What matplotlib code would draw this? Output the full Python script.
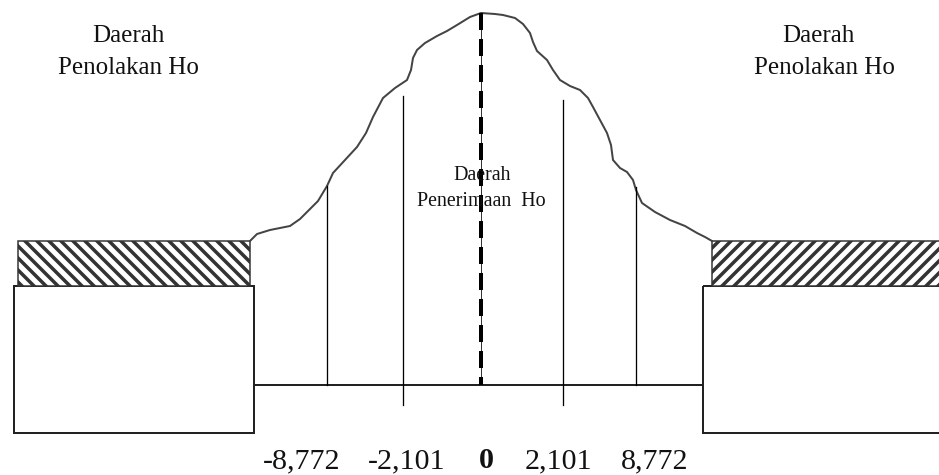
import matplotlib
matplotlib.use("Agg")
import matplotlib.pyplot as plt
from matplotlib.patches import Rectangle

plt.rcParams["font.family"] = "Liberation Serif"
plt.rcParams["hatch.linewidth"] = 3.5
plt.rcParams["lines.scale_dashes"] = False

W, H = 939, 475

# kurva (digambar tangan) dalam koordinat gambar
curve_x = [250, 257, 270, 290, 300, 318, 327, 333, 345, 357, 366, 373, 383, 395,
           407, 411, 413, 417, 425, 437, 447, 457, 470, 481,
           495, 503, 515, 523, 530, 533, 537, 547, 553, 560, 570, 580, 588, 593,
           600, 607, 611, 613, 620, 627, 633, 636, 642, 655, 670, 685, 697, 705, 712]
curve_y = [241, 234, 230, 226, 219, 201, 186, 173, 160, 147, 133, 117, 98, 88,
           80, 70, 58, 50, 43, 36, 31, 25, 17, 13,
           14, 15, 18, 24, 33, 42, 51, 60, 70, 80, 86, 90, 98, 107,
           120, 133, 145, 160, 168, 172, 180, 190, 203, 212, 220, 226, 233, 237, 241]

# garis batas kritis
crit_labels = ["-8,772", "-2,101", "0", "2,101", "8,772"]
crit_x = [327, 403, 481, 563, 636]
crit_top = [186, 96, 13, 100, 187]
crit_bottom = [385, 405, 385, 405, 385]
label_x = [302, 407, 486, 558, 655]

fig = plt.figure(figsize=(W / 72, H / 72), dpi=72)
ax = fig.add_axes([0, 0, 1, 1])
ax.set_xlim(0, W)
ax.set_ylim(H, 0)
ax.axis("off")

# kotak kiri / kanan + daerah arsiran
ax.add_patch(Rectangle((14, 286), 240, 147, fill=False, ec="#222", lw=2))
ax.add_patch(Rectangle((18, 241), 232, 45, fc="white", ec="#333", lw=1.5, hatch="\\\\"))
ax.add_patch(Rectangle((703, 286), 260, 147, fill=False, ec="#222", lw=2))
ax.add_patch(Rectangle((712, 241), 250, 45, fc="white", ec="#333", lw=1.5, hatch="//"))

# garis dasar
ax.plot([254, 703], [385, 385], color="#222", lw=2)

# kurva
ax.plot(curve_x, curve_y, color="#444", lw=2, solid_joinstyle="round")

# garis vertikal
for i, (x, t, b) in enumerate(zip(crit_x, crit_top, crit_bottom)):
    if crit_labels[i] == "0":
        ax.plot([x, x], [t, b], color="#333", lw=1)
        ax.plot([x, x], [t, b], color="black", lw=4, linestyle=(0, (17, 9)))
    else:
        ax.plot([x, x], [t, b], color="black", lw=1.3)

# label nilai kritis
for lx, lab in zip(label_x, crit_labels):
    ax.text(lx, 461, lab, ha="center", va="center", fontsize=30, color="#111",
            fontweight="bold" if lab == "0" else "normal")

# teks daerah
ax.text(128, 36, "Daerah", ha="center", va="center", fontsize=25, color="#111")
ax.text(128, 68, "Penolakan Ho", ha="center", va="center", fontsize=25, color="#111")
ax.text(818, 36, "Daerah", ha="center", va="center", fontsize=25, color="#111")
ax.text(824, 68, "Penolakan Ho", ha="center", va="center", fontsize=25, color="#111")
ax.text(482, 175, "Daerah", ha="center", va="center", fontsize=20, color="#111")
ax.text(481, 202, "Penerimaan  Ho", ha="center", va="center", fontsize=20, color="#111")

fig.savefig("out.png", dpi=72)
